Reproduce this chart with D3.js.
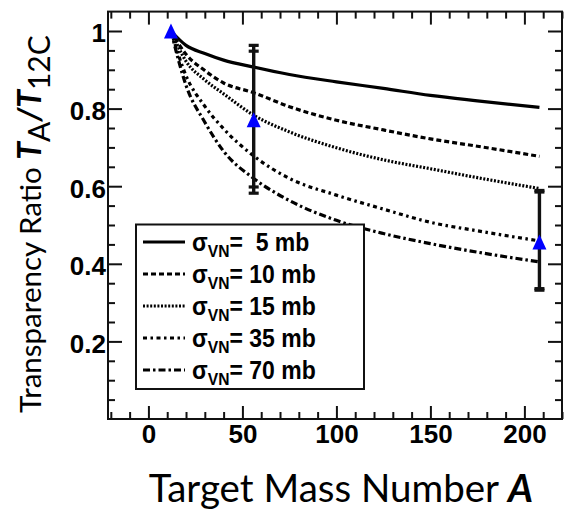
<!DOCTYPE html>
<html>
<head>
<meta charset="utf-8">
<script src="https://cdn.jsdelivr.net/npm/d3@7"></script>
<style>
  html, body { margin: 0; padding: 0; background: #fff; }
  svg { display: block; }
  text { white-space: pre; }
</style>
</head>
<body>
<svg id="chart" width="567" height="520"></svg>
<script>
// Target mass numbers at which the model curves are sampled
const massNumbers = [12, 20, 30, 40, 56, 75, 100, 125, 150, 175, 208];

// Transparency ratio T_A / T_12C for each nucleon-vector-meson cross section
const sigma5mb  = [1.0, 0.963, 0.942, 0.925, 0.907, 0.888, 0.869, 0.852, 0.834, 0.820, 0.803];
const sigma10mb = [1.0, 0.940, 0.898, 0.866, 0.841, 0.805, 0.770, 0.745, 0.722, 0.703, 0.677];
const sigma15mb = [1.0, 0.922, 0.874, 0.838, 0.783, 0.740, 0.699, 0.668, 0.645, 0.622, 0.594];
const sigma35mb = [1.0, 0.885, 0.806, 0.748, 0.678, 0.620, 0.577, 0.541, 0.507, 0.485, 0.459];
const sigma70mb = [1.0, 0.860, 0.765, 0.690, 0.620, 0.563, 0.512, 0.478, 0.452, 0.430, 0.405];

const seriesLabels = ["5", "10", "15", "35", "70"];

// Measured points (C, Fe, Pb) with inner and outer error ranges
const dataA      = [12, 56, 208];
const dataRatio  = [1.0, 0.771, 0.456];
const innerLow   = [null, 0.598, 0.336];
const innerHigh  = [null, 0.948, 0.585];
const outerLow   = [null, 0.582, 0.332];
const outerHigh  = [null, 0.963, 0.589];

const xTicks = [0, 50, 100, 150, 200];
const yTicks = [0.2, 0.4, 0.6, 0.8, 1.0];

const svg = d3.select("#chart");
const plotL = 108, plotR = 562, plotT = 11.6, plotB = 419;

const x = d3.scaleLinear().domain([-21.5, 220]).range([plotL, plotR]);
const y = d3.scaleLinear().domain([0, 1.05]).range([plotB, plotT]);

const tickFont = "'Liberation Sans', Arial, sans-serif";
const titleFont = "Lato, 'Open Sans', sans-serif";

// ---- axes: major and minor ticks on all four sides, pointing inward
const xMinor = d3.range(-20, 221, 10).filter(v => v % 50 !== 0);
const yMinor = d3.range(0.05, 1.05, 0.05).map(v => +v.toFixed(2)).filter(v => Math.round(v * 100) % 20 !== 0);

function styleAxis(g) {
  g.select(".domain").remove();
  g.selectAll(".tick line").attr("stroke", "#111").attr("stroke-width", 2);
}

// bottom
svg.append("g").attr("transform", `translate(0,${plotB})`)
  .call(d3.axisBottom(x).tickValues(xTicks).tickSizeInner(-13).tickPadding(6).tickFormat(d3.format("d")))
  .call(styleAxis)
  .call(g => g.selectAll("text").attr("font-family", tickFont).attr("font-weight", "bold")
    .attr("font-size", 26).attr("fill", "#000"));
svg.append("g").attr("transform", `translate(0,${plotB})`)
  .call(d3.axisBottom(x).tickValues(xMinor).tickSizeInner(-7).tickFormat(""))
  .call(styleAxis);
// top
svg.append("g").attr("transform", `translate(0,${plotT})`)
  .call(d3.axisTop(x).tickValues(xTicks).tickSizeInner(-13).tickFormat(""))
  .call(styleAxis);
svg.append("g").attr("transform", `translate(0,${plotT})`)
  .call(d3.axisTop(x).tickValues(xMinor).tickSizeInner(-7).tickFormat(""))
  .call(styleAxis);
// left
svg.append("g").attr("transform", `translate(${plotL},0)`)
  .call(d3.axisLeft(y).tickValues(yTicks).tickSizeInner(-14).tickPadding(2)
    .tickFormat(d => d === 1 ? "1" : d3.format(".1f")(d)))
  .call(styleAxis)
  .call(g => g.selectAll("text").attr("font-family", tickFont).attr("font-weight", "bold")
    .attr("font-size", 26).attr("fill", "#000").attr("dy", "0.42em"));
svg.append("g").attr("transform", `translate(${plotL},0)`)
  .call(d3.axisLeft(y).tickValues(yMinor).tickSizeInner(-7).tickFormat(""))
  .call(styleAxis);
// right
svg.append("g").attr("transform", `translate(${plotR},0)`)
  .call(d3.axisRight(y).tickValues(yTicks).tickSizeInner(-14).tickFormat(""))
  .call(styleAxis);
svg.append("g").attr("transform", `translate(${plotR},0)`)
  .call(d3.axisRight(y).tickValues(yMinor).tickSizeInner(-7).tickFormat(""))
  .call(styleAxis);

// frame
svg.append("rect")
  .attr("x", plotL).attr("y", plotT)
  .attr("width", plotR - plotL).attr("height", plotB - plotT)
  .attr("fill", "none").attr("stroke", "#111").attr("stroke-width", 2);

// ---- model curves
const series = [sigma5mb, sigma10mb, sigma15mb, sigma35mb, sigma70mb];
const dashes = [null, "5,3", "2,1.6", "4,3.5,2.5,3.5", "7,3,2.5,3"];

const line = d3.line()
  .x(d => x(d[0]))
  .y(d => y(d[1]))
  .curve(d3.curveMonotoneX);

series.forEach((vals, i) => {
  svg.append("path")
    .datum(massNumbers.map((a, k) => [a, vals[k]]))
    .attr("d", line)
    .attr("fill", "none")
    .attr("stroke", "#000")
    .attr("stroke-width", 3.2)
    .attr("stroke-dasharray", dashes[i]);
});

// ---- error bars
const bars = svg.append("g");
dataA.forEach((a, i) => {
  if (outerLow[i] == null) return;
  const cx = x(a);
  bars.append("line")
    .attr("x1", cx).attr("x2", cx)
    .attr("y1", y(outerHigh[i])).attr("y2", y(outerLow[i]))
    .attr("stroke", "#111").attr("stroke-width", 3.4);
  [innerLow[i], innerHigh[i], outerLow[i], outerHigh[i]].forEach(v => {
    bars.append("rect")
      .attr("x", cx - 5).attr("y", y(v) - 1.6)
      .attr("width", 10).attr("height", 3.2)
      .attr("fill", "#111");
  });
});

// ---- data markers (blue triangles)
const triW = 14, triH = 15;
svg.append("g").selectAll("path")
  .data(dataA.map((a, i) => [a, dataRatio[i]]))
  .join("path")
  .attr("d", d => {
    const cx = x(d[0]), cy = y(d[1]);
    return `M${cx},${cy - triH / 2}L${cx + triW / 2},${cy + triH / 2}L${cx - triW / 2},${cy + triH / 2}Z`;
  })
  .attr("fill", "#0000ff");

// ---- legend
const lg = svg.append("g");
lg.append("rect")
  .attr("x", 136).attr("y", 224.5)
  .attr("width", 228).attr("height", 164.5)
  .attr("fill", "#fff").attr("stroke", "#111").attr("stroke-width", 2);

const rowY = d3.scaleLinear().domain([0, 4]).range([242, 370]);
seriesLabels.forEach((lab, i) => {
  const yy = rowY(i);
  lg.append("line")
    .attr("x1", 143).attr("x2", 185)
    .attr("y1", yy).attr("y2", yy)
    .attr("stroke", "#000").attr("stroke-width", 3)
    .attr("stroke-dasharray", dashes[i]);
  const t = lg.append("text")
    .attr("transform", `translate(192,${yy + 9}) scale(0.92,1)`)
    .attr("font-family", tickFont).attr("font-weight", "bold")
    .attr("font-size", 25).attr("fill", "#000");
  t.append("tspan").text("σ");
  t.append("tspan").attr("font-size", 17).attr("dy", 6).text("VN");
  t.append("tspan").attr("dy", -6).text(lab.length === 1 ? "=  " + lab + " mb" : "= " + lab + " mb");
});

// ---- axis titles
const xt = svg.append("text")
  .attr("x", 341).attr("y", 502)
  .attr("text-anchor", "middle")
  .attr("font-family", titleFont).attr("font-size", 38.5).attr("fill", "#000");
xt.append("tspan").text("Target Mass Number ");
xt.append("tspan").attr("font-weight", "bold").attr("font-style", "italic").text("A");

const yt = svg.append("text")
  .attr("transform", "translate(41,413) rotate(-90)")
  .attr("text-anchor", "start")
  .attr("font-family", titleFont).attr("font-size", 29.5).attr("fill", "#000");
yt.append("tspan").text("Transparency Ratio ");
yt.append("tspan").attr("font-weight", "bold").attr("font-style", "italic").attr("font-size", 32).text("T");
yt.append("tspan").attr("font-size", 30).attr("dy", 9).text("A");
yt.append("tspan").attr("font-weight", "bold").attr("font-style", "italic").attr("font-size", 32).attr("dy", -9).text("/T");
yt.append("tspan").attr("font-size", 30).attr("dy", 9).text("12C");
</script>
</body>
</html>
